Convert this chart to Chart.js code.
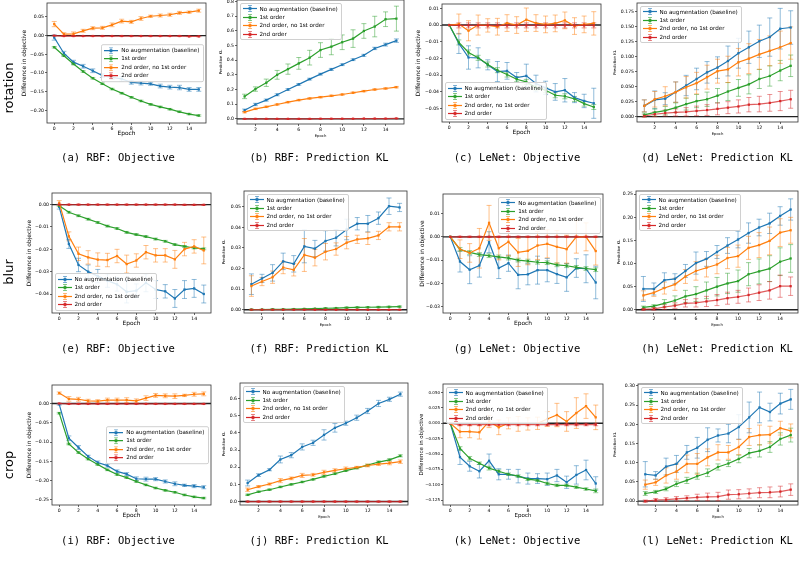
<!DOCTYPE html>
<html lang="en">
<head>
<meta charset="UTF-8">
<title>Augmentation: objective and prediction KL</title>
<script src="https://cdn.jsdelivr.net/npm/chart.js@4.4.1/dist/chart.umd.min.js"></script>
<style>
  html, body { margin: 0; padding: 0; background: #fff; }
  body { position: relative; width: 800px; height: 568px; overflow: hidden; font-family: "DejaVu Sans", sans-serif; }
  canvas { position: absolute; }
  .area { position: absolute; pointer-events: none; }
  .legend { position: absolute; background: rgba(255,255,255,0.85); border: 0.8px solid #d0d0d0; border-radius: 2px;
            padding: 1px 3px 1px 2px; font-size: 5.6px; line-height: 8.4px; white-space: nowrap; color: #000; }
  .legend svg { vertical-align: middle; margin-right: 3px; }
  .caption { position: absolute; transform: translate(-50%, -50%); font-family: "DejaVu Sans Mono", monospace; font-size: 10.5px; white-space: nowrap; }
  .rowlabel { position: absolute; font-size: 13px; transform: translate(-50%, -50%) rotate(-90deg); white-space: nowrap; }
</style>
</head>
<body>
<script>
// series + labels
const seriesNames = ['No augmentation (baseline)', '1st order', '2nd order, no 1st order', '2nd order'];
const seriesColors = ['#1f77b4', '#2ca02c', '#ff7f0e', '#d62728'];
const seriesFaded = ['rgba(31,119,180,0.55)', 'rgba(44,160,44,0.55)', 'rgba(255,127,14,0.55)', 'rgba(214,39,40,0.55)'];
const rowLabels = ['rotation', 'blur', 'crop'];

const epochsObj = [0, 1, 2, 3, 4, 5, 6, 7, 8, 9, 10, 11, 12, 13, 14, 15];
const epochsKL = [1, 2, 3, 4, 5, 6, 7, 8, 9, 10, 11, 12, 13, 14, 15];
const xticksObj = [0, 2, 4, 6, 8, 10, 12, 14];
const xticksKL = [2, 4, 6, 8, 10, 12, 14];

// (a) rotation, RBF objective
const a_yticks = [0.05, 0, -0.05, -0.10, -0.15, -0.20];
const a_base = [-0.005, -0.047, -0.071, -0.082, -0.094, -0.107, -0.112, -0.116, -0.125, -0.127, -0.129, -0.135, -0.138, -0.139, -0.144, -0.144];
const a_base_err = [0.007, 0.005, 0.005, 0.005, 0.005, 0.005, 0.005, 0.006, 0.005, 0.005, 0.004, 0.005, 0.005, 0.006, 0.005, 0.005];
const a_first = [-0.031, -0.054, -0.076, -0.096, -0.114, -0.129, -0.143, -0.154, -0.165, -0.175, -0.184, -0.191, -0.197, -0.204, -0.210, -0.214];
const a_first_err = [0.002, 0.002, 0.002, 0.002, 0.002, 0.002, 0.002, 0.002, 0.002, 0.002, 0.002, 0.002, 0.002, 0.002, 0.002, 0.002];
const a_mix = [0.031, 0.004, 0.005, 0.013, 0.020, 0.021, 0.029, 0.039, 0.037, 0.046, 0.052, 0.054, 0.056, 0.061, 0.063, 0.067];
const a_mix_err = [0.007, 0.004, 0.005, 0.004, 0.004, 0.004, 0.005, 0.005, 0.004, 0.005, 0.003, 0.004, 0.004, 0.004, 0.003, 0.004];
const a_second = [0, -0.001, -0.001, -0.001, -0.001, -0.001, -0.001, -0.001, -0.001, -0.001, -0.001, -0.001, -0.001, -0.001, -0.002, -0.002];
const a_second_err = [0.001, 0.001, 0.001, 0.001, 0.001, 0.001, 0.001, 0.001, 0.001, 0.001, 0.001, 0.001, 0.001, 0.001, 0.001, 0.001];

// (b) rotation, RBF prediction KL
const b_yticks = [0, 0.1, 0.2, 0.3, 0.4, 0.5, 0.6, 0.7, 0.8];
const b_base = [0.059, 0.098, 0.128, 0.164, 0.200, 0.235, 0.271, 0.305, 0.337, 0.369, 0.403, 0.433, 0.480, 0.506, 0.533];
const b_base_err = [0.008, 0.008, 0.007, 0.007, 0.006, 0.006, 0.006, 0.006, 0.007, 0.006, 0.006, 0.007, 0.008, 0.010, 0.012];
const b_first = [0.153, 0.203, 0.246, 0.300, 0.339, 0.378, 0.417, 0.469, 0.492, 0.522, 0.547, 0.599, 0.629, 0.679, 0.683];
const b_first_err = [0.015, 0.015, 0.025, 0.030, 0.035, 0.040, 0.050, 0.050, 0.055, 0.050, 0.060, 0.050, 0.070, 0.050, 0.085];
const b_mix = [0.046, 0.068, 0.082, 0.098, 0.114, 0.128, 0.139, 0.148, 0.157, 0.166, 0.178, 0.189, 0.200, 0.207, 0.216];
const b_mix_err = [0.005, 0.005, 0.005, 0.005, 0.005, 0.005, 0.005, 0.005, 0.005, 0.005, 0.005, 0.005, 0.005, 0.005, 0.005];
const b_second = [0, 0, 0, 0, 0, 0, 0, 0.001, 0.001, 0.001, 0.001, 0.002, 0.002, 0.002, 0.003];
const b_second_err = [0.001, 0.001, 0.001, 0.001, 0.001, 0.001, 0.001, 0.001, 0.001, 0.001, 0.001, 0.001, 0.001, 0.001, 0.001];

// (c) rotation, LeNet objective
const c_yticks = [0.01, 0, -0.01, -0.02, -0.03, -0.04, -0.05];
const c_base = [0, -0.0110, -0.0194, -0.0196, -0.0238, -0.0278, -0.0274, -0.0314, -0.0304, -0.0350, -0.0376, -0.0400, -0.0390, -0.0434, -0.0454, -0.0468];
const c_base_err = [0, 0.006, 0.007, 0.006, 0.003, 0.006, 0.005, 0.003, 0.007, 0.005, 0.004, 0.005, 0.007, 0.003, 0.004, 0.009];
const c_first = [0, -0.0104, -0.0164, -0.0196, -0.0236, -0.0270, -0.0296, -0.0324, -0.0340, -0.0374, -0.0390, -0.0420, -0.0426, -0.0442, -0.0470, -0.0490];
const c_first_err = [0, 0.0015, 0.0015, 0.0015, 0.0015, 0.0015, 0.0015, 0.0015, 0.0015, 0.0015, 0.0015, 0.0015, 0.0015, 0.0015, 0.0015, 0.0015];
const c_mix = [0, 0.0006, -0.0034, 0, -0.0002, -0.0010, 0.0012, 0, 0.0032, 0.0012, 0.0004, 0.0010, 0.0028, -0.0006, 0.0004, 0.0010];
const c_mix_err = [0, 0.006, 0.006, 0.006, 0.004, 0.005, 0.005, 0.005, 0.007, 0.005, 0.005, 0.005, 0.005, 0.005, 0.005, 0.007];
const c_second = [0, -0.0002, -0.0002, -0.0002, -0.0002, -0.0002, -0.0002, -0.0002, -0.0002, -0.0002, -0.0002, -0.0002, -0.0002, -0.0002, -0.0002, -0.0002];
const c_second_err = [0, 0.0015, 0.0015, 0.0015, 0.0015, 0.0015, 0.0015, 0.0015, 0.0015, 0.0015, 0.0015, 0.0015, 0.0015, 0.0015, 0.0015, 0.0015];

// (d) rotation, LeNet prediction KL
const d_yticks = [0, 0.025, 0.05, 0.075, 0.1, 0.125, 0.15, 0.175];
const d_base = [0.018, 0.028, 0.030, 0.041, 0.052, 0.063, 0.074, 0.082, 0.093, 0.106, 0.116, 0.126, 0.133, 0.147, 0.149];
const d_base_err = [0.010, 0.015, 0.010, 0.017, 0.017, 0.018, 0.018, 0.018, 0.025, 0.025, 0.027, 0.027, 0.032, 0.034, 0.028];
const d_first = [0.003, 0.007, 0.010, 0.015, 0.021, 0.026, 0.029, 0.035, 0.042, 0.048, 0.054, 0.063, 0.068, 0.077, 0.085];
const d_first_err = [0.003, 0.006, 0.007, 0.008, 0.010, 0.011, 0.012, 0.012, 0.015, 0.014, 0.016, 0.016, 0.017, 0.017, 0.018];
const d_mix = [0.018, 0.029, 0.034, 0.041, 0.049, 0.056, 0.066, 0.076, 0.079, 0.091, 0.097, 0.104, 0.110, 0.116, 0.123];
const d_mix_err = [0.010, 0.013, 0.016, 0.017, 0.018, 0.018, 0.020, 0.020, 0.022, 0.023, 0.025, 0.025, 0.025, 0.027, 0.027];
const d_second = [0.001, 0.004, 0.006, 0.007, 0.008, 0.0095, 0.011, 0.013, 0.015, 0.017, 0.020, 0.021, 0.023, 0.026, 0.029];
const d_second_err = [0.002, 0.004, 0.005, 0.006, 0.007, 0.008, 0.009, 0.010, 0.010, 0.011, 0.012, 0.013, 0.014, 0.016, 0.015];

// (e) blur, RBF objective
const e_yticks = [0, -0.01, -0.02, -0.03, -0.04];
const e_base = [-0.001, -0.0176, -0.0270, -0.0300, -0.0320, -0.0340, -0.0357, -0.0390, -0.0385, -0.0350, -0.0380, -0.0388, -0.0420, -0.0380, -0.0375, -0.0400];
const e_base_err = [0.001, 0.002, 0.003, 0.003, 0.003, 0.003, 0.003, 0.005, 0.003, 0.004, 0.004, 0.003, 0.004, 0.004, 0.004, 0.004];
const e_first = [-0.0005, -0.0034, -0.0050, -0.0065, -0.0080, -0.0096, -0.0107, -0.0124, -0.0134, -0.0143, -0.0154, -0.0164, -0.0179, -0.0187, -0.0194, -0.0198];
const e_first_err = [0.0004, 0.0004, 0.0004, 0.0004, 0.0004, 0.0004, 0.0004, 0.0004, 0.0004, 0.0004, 0.0004, 0.0004, 0.0004, 0.0004, 0.0004, 0.0004];
const e_mix = [0.0008, -0.0142, -0.0220, -0.0236, -0.0246, -0.0248, -0.0230, -0.0266, -0.0250, -0.0213, -0.0227, -0.0227, -0.0245, -0.0199, -0.0187, -0.0205];
const e_mix_err = [0.001, 0.002, 0.003, 0.003, 0.003, 0.003, 0.003, 0.004, 0.003, 0.003, 0.003, 0.003, 0.004, 0.003, 0.003, 0.006];
const e_second = [0, 0, 0, 0, 0, 0, 0, 0, 0, 0, 0, 0, 0, -0.0001, -0.0001, -0.0001];
const e_second_err = [0.0002, 0.0002, 0.0002, 0.0002, 0.0002, 0.0002, 0.0002, 0.0002, 0.0002, 0.0002, 0.0002, 0.0002, 0.0002, 0.0002, 0.0002, 0.0002];

// (f) blur, RBF prediction KL
const f_yticks = [0, 0.01, 0.02, 0.03, 0.04, 0.05];
const f_base = [0.0124, 0.0152, 0.0179, 0.0235, 0.0223, 0.0308, 0.0297, 0.0334, 0.0350, 0.0390, 0.0418, 0.0418, 0.0445, 0.0503, 0.0497];
const f_base_err = [0.005, 0.002, 0.004, 0.004, 0.004, 0.008, 0.004, 0.005, 0.004, 0.005, 0.003, 0.004, 0.003, 0.004, 0.002];
const f_first = [0.0001, 0.0001, 0.0002, 0.0002, 0.0003, 0.0004, 0.0005, 0.0007, 0.0008, 0.0010, 0.0011, 0.0012, 0.0013, 0.0014, 0.0015];
const f_first_err = [0.0002, 0.0002, 0.0002, 0.0002, 0.0002, 0.0002, 0.0002, 0.0002, 0.0002, 0.0003, 0.0003, 0.0003, 0.0003, 0.0003, 0.0003];
const f_mix = [0.0115, 0.0137, 0.0158, 0.0205, 0.0194, 0.0266, 0.0253, 0.0282, 0.0295, 0.0326, 0.0342, 0.0347, 0.0361, 0.0403, 0.0403];
const f_mix_err = [0.005, 0.002, 0.003, 0.003, 0.003, 0.008, 0.004, 0.004, 0.003, 0.003, 0.002, 0.003, 0.002, 0.002, 0.002];
const f_second = [0, 0, 0, 0, 0, 0, 0, 0, 0, 0, 0, 0, 0, 0, 0];
const f_second_err = [0.0001, 0.0001, 0.0001, 0.0001, 0.0001, 0.0001, 0.0001, 0.0001, 0.0001, 0.0001, 0.0001, 0.0001, 0.0001, 0.0001, 0.0001];

// (g) blur, LeNet objective
const g_yticks = [0.01, 0, -0.01, -0.02, -0.03];
const g_base = [0, -0.0106, -0.0141, -0.0123, -0.0023, -0.0134, -0.0113, -0.0163, -0.0161, -0.0143, -0.0143, -0.0160, -0.0174, -0.0134, -0.0137, -0.0196];
const g_base_err = [0, 0.0045, 0.006, 0.005, 0.0045, 0.0045, 0.0035, 0.006, 0.0045, 0.006, 0.005, 0.004, 0.006, 0.004, 0.006, 0.007];
const g_first = [0, -0.0054, -0.0067, -0.0076, -0.0081, -0.0086, -0.0091, -0.0100, -0.0104, -0.0109, -0.0111, -0.0120, -0.0124, -0.0131, -0.0136, -0.0141];
const g_first_err = [0, 0.0008, 0.0008, 0.0008, 0.0008, 0.0008, 0.0008, 0.0008, 0.0008, 0.0008, 0.0008, 0.0008, 0.0008, 0.0008, 0.0008, 0.0008];
const g_mix = [0, -0.0053, -0.0069, -0.0049, 0.0060, -0.0049, -0.0021, -0.0067, -0.0060, -0.0037, -0.0030, -0.0043, -0.0053, 0, 0, -0.0061];
const g_mix_err = [0, 0.004, 0.004, 0.0085, 0.0075, 0.005, 0.006, 0.006, 0.006, 0.006, 0.006, 0.007, 0.006, 0.007, 0.006, 0.006];
const g_second = [0, 0, 0, 0, 0, 0, 0, 0, 0, 0, 0, 0, 0, 0, 0, 0];
const g_second_err = [0, 0.0003, 0.0003, 0.0003, 0.0003, 0.0003, 0.0003, 0.0003, 0.0003, 0.0003, 0.0003, 0.0003, 0.0003, 0.0003, 0.0003, 0.0003];

// (h) blur, LeNet prediction KL
const h_yticks = [0, 0.05, 0.10, 0.15, 0.20, 0.25];
const h_base = [0.045, 0.045, 0.064, 0.067, 0.084, 0.101, 0.110, 0.125, 0.139, 0.152, 0.166, 0.178, 0.187, 0.203, 0.217];
const h_base_err = [0.027, 0.013, 0.016, 0.011, 0.014, 0.024, 0.016, 0.014, 0.017, 0.018, 0.022, 0.018, 0.022, 0.020, 0.023];
const h_first = [0.005, 0.008, 0.014, 0.020, 0.029, 0.034, 0.042, 0.050, 0.057, 0.062, 0.077, 0.083, 0.089, 0.104, 0.111];
const h_first_err = [0.003, 0.003, 0.008, 0.010, 0.013, 0.016, 0.018, 0.020, 0.022, 0.024, 0.025, 0.027, 0.028, 0.030, 0.030];
const h_mix = [0.031, 0.037, 0.047, 0.055, 0.072, 0.084, 0.091, 0.098, 0.112, 0.116, 0.134, 0.140, 0.149, 0.167, 0.172];
const h_mix_err = [0.010, 0.008, 0.013, 0.013, 0.015, 0.020, 0.020, 0.020, 0.023, 0.024, 0.025, 0.027, 0.030, 0.030, 0.028];
const h_second = [0.001, 0.002, 0.006, 0.009, 0.014, 0.015, 0.018, 0.021, 0.025, 0.028, 0.032, 0.037, 0.042, 0.051, 0.051];
const h_second_err = [0.002, 0.003, 0.005, 0.006, 0.008, 0.009, 0.011, 0.012, 0.013, 0.014, 0.015, 0.017, 0.019, 0.024, 0.020];

// (i) crop, RBF objective
const i_yticks = [0, -0.05, -0.10, -0.15, -0.20, -0.25];
const i_base = [-0.002, -0.090, -0.114, -0.137, -0.153, -0.161, -0.176, -0.183, -0.195, -0.196, -0.196, -0.202, -0.208, -0.212, -0.214, -0.217];
const i_base_err = [0.002, 0.006, 0.005, 0.003, 0.004, 0.004, 0.004, 0.004, 0.005, 0.005, 0.004, 0.004, 0.005, 0.003, 0.004, 0.004];
const i_first = [-0.025, -0.105, -0.127, -0.144, -0.158, -0.172, -0.184, -0.192, -0.202, -0.211, -0.219, -0.225, -0.230, -0.237, -0.242, -0.245];
const i_first_err = [0.002, 0.002, 0.002, 0.002, 0.002, 0.002, 0.002, 0.002, 0.002, 0.002, 0.002, 0.002, 0.002, 0.002, 0.002, 0.002];
const i_mix = [0.027, 0.012, 0.011, 0.007, 0.006, 0.009, 0.009, 0.009, 0.007, 0.014, 0.021, 0.020, 0.019, 0.021, 0.024, 0.025];
const i_mix_err = [0.003, 0.006, 0.005, 0.004, 0.004, 0.005, 0.005, 0.006, 0.005, 0.006, 0.005, 0.005, 0.006, 0.003, 0.005, 0.005];
const i_second = [0, -0.001, -0.001, -0.001, -0.001, -0.001, -0.001, -0.001, -0.001, -0.001, -0.001, -0.001, -0.001, -0.001, -0.001, -0.001];
const i_second_err = [0.001, 0.001, 0.001, 0.001, 0.001, 0.001, 0.001, 0.001, 0.001, 0.001, 0.001, 0.001, 0.001, 0.001, 0.001, 0.001];

// (j) crop, RBF prediction KL
const j_yticks = [0, 0.1, 0.2, 0.3, 0.4, 0.5, 0.6];
const j_base = [0.108, 0.154, 0.185, 0.245, 0.270, 0.318, 0.342, 0.388, 0.429, 0.456, 0.488, 0.527, 0.571, 0.595, 0.625];
const j_base_err = [0.017, 0.008, 0.006, 0.020, 0.015, 0.018, 0.015, 0.030, 0.025, 0.012, 0.015, 0.015, 0.018, 0.012, 0.012];
const j_first = [0.039, 0.057, 0.069, 0.085, 0.100, 0.114, 0.129, 0.147, 0.162, 0.180, 0.195, 0.212, 0.230, 0.243, 0.266];
const j_first_err = [0.004, 0.004, 0.004, 0.004, 0.004, 0.004, 0.004, 0.005, 0.005, 0.005, 0.005, 0.005, 0.006, 0.006, 0.006];
const j_mix = [0.069, 0.087, 0.102, 0.122, 0.135, 0.152, 0.156, 0.170, 0.181, 0.191, 0.199, 0.210, 0.218, 0.224, 0.232];
const j_mix_err = [0.010, 0.006, 0.006, 0.012, 0.008, 0.012, 0.008, 0.012, 0.010, 0.010, 0.006, 0.008, 0.008, 0.010, 0.010];
const j_second = [0, 0, 0, 0, 0, 0, 0, 0, 0, 0, 0, 0, 0, 0, 0];
const j_second_err = [0.003, 0.003, 0.003, 0.003, 0.003, 0.003, 0.003, 0.003, 0.003, 0.003, 0.003, 0.003, 0.003, 0.003, 0.003];

// (k) crop, LeNet objective
const k_yticks = [0.05, 0.025, 0, -0.025, -0.05, -0.075, -0.1, -0.125];
const k_base = [0, -0.055, -0.070, -0.078, -0.061, -0.083, -0.083, -0.086, -0.090, -0.090, -0.091, -0.085, -0.096, -0.084, -0.076, -0.098];
const k_base_err = [0, 0.012, 0.008, 0.011, 0.011, 0.009, 0.008, 0.011, 0.009, 0.008, 0.010, 0.010, 0.010, 0.015, 0.016, 0.011];
const k_first = [0, -0.041, -0.057, -0.065, -0.073, -0.078, -0.083, -0.086, -0.091, -0.093, -0.098, -0.101, -0.101, -0.104, -0.107, -0.110];
const k_first_err = [0, 0.003, 0.003, 0.002, 0.003, 0.002, 0.002, 0.002, 0.002, 0.002, 0.002, 0.002, 0.002, 0.002, 0.002, 0.003];
const k_mix = [0, -0.0135, -0.0135, -0.0146, 0.003, -0.0065, 0, -0.001, -0.001, 0, 0.007, 0.0135, 0.003, 0.0167, 0.028, 0.0097];
const k_mix_err = [0, 0.010, 0.010, 0.011, 0.010, 0.012, 0.009, 0.012, 0.010, 0.010, 0.012, 0.019, 0.016, 0.025, 0.020, 0.020];
const k_second = [0, -0.002, -0.002, -0.002, -0.002, -0.002, -0.002, -0.002, -0.002, -0.002, -0.002, -0.002, -0.002, -0.002, -0.002, -0.002];
const k_second_err = [0, 0.002, 0.002, 0.002, 0.002, 0.002, 0.002, 0.002, 0.002, 0.002, 0.002, 0.002, 0.002, 0.002, 0.002, 0.002];

// (l) crop, LeNet prediction KL
const l_yticks = [0, 0.05, 0.10, 0.15, 0.20, 0.25, 0.30];
const l_base = [0.070, 0.067, 0.090, 0.097, 0.127, 0.139, 0.160, 0.171, 0.176, 0.193, 0.218, 0.244, 0.232, 0.254, 0.265];
const l_base_err = [0.033, 0.010, 0.022, 0.022, 0.018, 0.027, 0.031, 0.017, 0.024, 0.032, 0.040, 0.040, 0.023, 0.027, 0.026];
const l_first = [0.020, 0.024, 0.032, 0.045, 0.054, 0.065, 0.074, 0.089, 0.098, 0.110, 0.125, 0.131, 0.141, 0.162, 0.172];
const l_first_err = [0.005, 0.004, 0.005, 0.007, 0.008, 0.008, 0.010, 0.008, 0.008, 0.010, 0.012, 0.016, 0.014, 0.016, 0.018];
const l_mix = [0.043, 0.049, 0.067, 0.077, 0.097, 0.097, 0.114, 0.127, 0.127, 0.141, 0.167, 0.172, 0.173, 0.190, 0.183];
const l_mix_err = [0.012, 0.008, 0.020, 0.020, 0.023, 0.027, 0.022, 0.020, 0.018, 0.020, 0.022, 0.026, 0.022, 0.018, 0.018];
const l_second = [0.000, 0.003, 0.004, 0.006, 0.008, 0.010, 0.011, 0.012, 0.017, 0.018, 0.020, 0.022, 0.023, 0.025, 0.030];
const l_second_err = [0.003, 0.004, 0.005, 0.006, 0.006, 0.008, 0.010, 0.011, 0.012, 0.012, 0.012, 0.013, 0.014, 0.014, 0.015];

// layout of the 12 panels: chart area [left, top, right, bottom] in page px
const panels = [
  { caption: '(a) RBF: Objective', kind: 'obj', series: [a_base, a_first, a_mix, a_second], errors: [a_base_err, a_first_err, a_mix_err, a_second_err],
    yticks: a_yticks, dec: 2, ymin: -0.234, ymax: 0.0875, area: [47, 3, 206, 123], ytitleX: 24.3, legend: 'cr' },
  { caption: '(b) RBF: Prediction KL', kind: 'kl', series: [b_base, b_first, b_mix, b_second], errors: [b_base_err, b_first_err, b_mix_err, b_second_err],
    yticks: b_yticks, dec: 1, ymin: -0.035, ymax: 0.81, area: [237, 0, 404, 124], ytitleX: 221.7, legend: 'ul' },
  { caption: '(c) LeNet: Objective', kind: 'obj', series: [c_base, c_first, c_mix, c_second], errors: [c_base_err, c_first_err, c_mix_err, c_second_err],
    yticks: c_yticks, dec: 2, ymin: -0.058, ymax: 0.0126, area: [442, 4, 601, 122], ytitleX: 419, legend: 'll' },
  { caption: '(d) LeNet: Prediction KL', kind: 'kl', series: [d_base, d_first, d_mix, d_second], errors: [d_base_err, d_first_err, d_mix_err, d_second_err],
    yticks: d_yticks, dec: 3, ymin: -0.009, ymax: 0.19, area: [637, 3, 798, 122], ytitleX: 615.7, legend: 'ul' },
  { caption: '(e) RBF: Objective', kind: 'obj', series: [e_base, e_first, e_mix, e_second], errors: [e_base_err, e_first_err, e_mix_err, e_second_err],
    yticks: e_yticks, dec: 2, ymin: -0.0485, ymax: 0.0052, area: [52, 193, 211, 313], ytitleX: 30, legend: 'll' },
  { caption: '(f) RBF: Prediction KL', kind: 'kl', series: [f_base, f_first, f_mix, f_second], errors: [f_base_err, f_first_err, f_mix_err, f_second_err],
    yticks: f_yticks, dec: 2, ymin: -0.0016, ymax: 0.0577, area: [244, 191, 407, 313], ytitleX: 224.3, legend: 'ul' },
  { caption: '(g) LeNet: Objective', kind: 'obj', series: [g_base, g_first, g_mix, g_second], errors: [g_base_err, g_first_err, g_mix_err, g_second_err],
    yticks: g_yticks, dec: 2, ymin: -0.0327, ymax: 0.0184, area: [443, 194, 603, 313], ytitleX: 422.3, legend: 'ur' },
  { caption: '(h) LeNet: Prediction KL', kind: 'kl', series: [h_base, h_first, h_mix, h_second], errors: [h_base_err, h_first_err, h_mix_err, h_second_err],
    yticks: h_yticks, dec: 2, ymin: -0.007, ymax: 0.257, area: [636, 191, 798, 313], ytitleX: 619, legend: 'ul' },
  { caption: '(i) RBF: Objective', kind: 'obj', series: [i_base, i_first, i_mix, i_second], errors: [i_base_err, i_first_err, i_mix_err, i_second_err],
    yticks: i_yticks, dec: 2, ymin: -0.263, ymax: 0.048, area: [52, 385, 211, 505], ytitleX: 30, legend: 'cr' },
  { caption: '(j) RBF: Prediction KL', kind: 'kl', series: [j_base, j_first, j_mix, j_second], errors: [j_base_err, j_first_err, j_mix_err, j_second_err],
    yticks: j_yticks, dec: 1, ymin: -0.02, ymax: 0.69, area: [240, 383, 408, 505], ytitleX: 224.3, legend: 'ul' },
  { caption: '(k) LeNet: Objective', kind: 'obj', series: [k_base, k_first, k_mix, k_second], errors: [k_base_err, k_first_err, k_mix_err, k_second_err],
    yticks: k_yticks, dec: 3, ymin: -0.133, ymax: 0.064, area: [443, 384, 603, 505], ytitleX: 421, legend: 'ul', tickSize: 4.0, titleSize: 5.5 },
  { caption: '(l) LeNet: Prediction KL', kind: 'kl', series: [l_base, l_first, l_mix, l_second], errors: [l_base_err, l_first_err, l_mix_err, l_second_err],
    yticks: l_yticks, dec: 2, ymin: -0.01, ymax: 0.305, area: [638, 384, 798, 505], ytitleX: 615.7, legend: 'ul' }
];

const captionX = [118, 319, 517, 717];
const captionY = [157, 348, 540];
const rowLabelY = [88, 272, 465];

// zero line, error bars, and the box around the axes
const errorBars = {
  id: 'errorBars',
  beforeDatasetsDraw(chart) {
    const ctx = chart.ctx, ys = chart.scales.y, area = chart.chartArea;
    ctx.save();
    const y0 = ys.getPixelForValue(0);
    ctx.strokeStyle = '#222';
    ctx.lineWidth = 1.4;
    ctx.beginPath();
    ctx.moveTo(area.left, y0);
    ctx.lineTo(area.right, y0);
    ctx.stroke();
    chart.data.datasets.forEach((ds, k) => {
      const meta = chart.getDatasetMeta(k);
      ctx.strokeStyle = seriesFaded[k];
      ctx.lineWidth = 0.9;
      meta.data.forEach((pt, i) => {
        const e = ds.errors[i];
        if (!e) return;
        const v = ds.data[i].y;
        const y1 = ys.getPixelForValue(v - e);
        const y2 = ys.getPixelForValue(v + e);
        ctx.beginPath();
        ctx.moveTo(pt.x, y1); ctx.lineTo(pt.x, y2);
        ctx.moveTo(pt.x - 2.5, y1); ctx.lineTo(pt.x + 2.5, y1);
        ctx.moveTo(pt.x - 2.5, y2); ctx.lineTo(pt.x + 2.5, y2);
        ctx.stroke();
      });
    });
    ctx.restore();
  },
  afterDraw(chart) {
    const ctx = chart.ctx, a = chart.chartArea;
    ctx.save();
    ctx.strokeStyle = '#333';
    ctx.lineWidth = 0.8;
    ctx.strokeRect(a.left, a.top, a.right - a.left, a.bottom - a.top);
    ctx.restore();
  }
};

function fmt(v, dec) {
  const s = Math.abs(v).toFixed(dec);
  return v < -1e-12 ? '\u2212' + s : s;
}

function handleSvg(k) {
  const c = seriesColors[k], f = seriesFaded[k];
  return '<svg width="14" height="7" viewBox="0 0 14 7">' +
    '<line x1="0" y1="3.5" x2="14" y2="3.5" stroke="' + c + '" stroke-width="1.2"/>' +
    '<line x1="7" y1="0.5" x2="7" y2="6.5" stroke="' + f + '" stroke-width="1"/>' +
    '<line x1="5" y1="0.5" x2="9" y2="0.5" stroke="' + f + '" stroke-width="1"/>' +
    '<line x1="5" y1="6.5" x2="9" y2="6.5" stroke="' + f + '" stroke-width="1"/>' +
    '<rect x="5.6" y="2.1" width="2.8" height="2.8" fill="' + c + '"/></svg>';
}

function makePanel(p) {
  const isKL = p.kind === 'kl';
  const epochs = isKL ? epochsKL : epochsObj;
  const xticks = isKL ? xticksKL : xticksObj;
  const [l, t, r, b] = p.area;
  const tickSize = p.tickSize || 4.6;
  const titleSize = p.titleSize || (isKL ? 3.8 : 5.9);
  const lh = titleSize * 1.2;
  const padL = Math.round(l - (p.ytitleX - lh / 2));
  const padT = 5, padR = 4, padB = 14;

  const canvas = document.createElement('canvas');
  canvas.width = (r - l) + padL + padR;
  canvas.height = (b - t) + padT + padB;
  canvas.style.left = (l - padL) + 'px';
  canvas.style.top = (t - padT) + 'px';
  document.body.appendChild(canvas);

  const tickFont = { family: 'DejaVu Sans', size: tickSize };
  const chart = new Chart(canvas.getContext('2d'), {
    type: 'line',
    data: {
      datasets: p.series.map((vals, k) => ({
        label: seriesNames[k],
        data: epochs.map((e, i) => ({ x: e, y: vals[i] })),
        errors: p.errors[k],
        borderColor: k === 3 ? 'rgba(214,39,40,0.75)' : seriesColors[k],
        backgroundColor: seriesColors[k],
        borderWidth: 1.2,
        pointStyle: 'rect',
        pointRadius: 1.6,
        pointBorderWidth: 0,
        tension: 0,
        order: 4 - k
      }))
    },
    options: {
      responsive: false,
      animation: false,
      layout: { padding: { top: padT, right: padR, left: 0, bottom: 0 } },
      plugins: { legend: { display: false }, tooltip: { enabled: false } },
      scales: {
        x: {
          type: 'linear',
          min: isKL ? 0.3 : -0.75,
          max: isKL ? 15.7 : 15.75,
          afterBuildTicks: s => { s.ticks = xticks.map(v => ({ value: v })); },
          afterFit: s => { s.height = padB; },
          ticks: { font: { family: 'DejaVu Sans', size: 4.6 }, color: '#000', padding: 1, maxRotation: 0, autoSkip: false, callback: v => String(v) },
          grid: { display: true, drawOnChartArea: false, drawTicks: true, tickLength: 2, color: '#000', lineWidth: 0.6 },
          border: { display: false },
          title: { display: true, text: 'Epoch', color: '#000', padding: 0, font: { family: 'DejaVu Sans', size: titleSize } }
        },
        y: {
          type: 'linear',
          min: p.ymin,
          max: p.ymax,
          afterBuildTicks: s => { s.ticks = p.yticks.map(v => ({ value: v })); },
          afterFit: s => { s.width = padL; },
          ticks: { font: tickFont, color: '#000', padding: 1, autoSkip: false, callback: v => fmt(v, p.dec) },
          grid: { display: true, drawOnChartArea: false, drawTicks: true, tickLength: 2, color: '#000', lineWidth: 0.6 },
          border: { display: false },
          title: { display: true, text: isKL ? 'Prediction KL' : 'Difference in objective', color: '#000', padding: 0,
                   font: { family: 'DejaVu Sans', size: titleSize } }
        }
      }
    },
    plugins: [errorBars]
  });

  // legend inside the axes
  const ca = chart.chartArea;
  const box = document.createElement('div');
  box.className = 'area';
  box.style.left = (l - padL + ca.left) + 'px';
  box.style.top = (t - padT + ca.top) + 'px';
  box.style.width = (ca.right - ca.left) + 'px';
  box.style.height = (ca.bottom - ca.top) + 'px';
  const lg = document.createElement('div');
  lg.className = 'legend';
  lg.innerHTML = seriesNames.map((n, k) => '<div>' + handleSvg(k) + '<span>' + n + '</span></div>').join('');
  const inset = '2.5px';
  if (p.legend === 'ul') { lg.style.left = inset; lg.style.top = inset; }
  if (p.legend === 'll') { lg.style.left = inset; lg.style.bottom = inset; }
  if (p.legend === 'ur') { lg.style.right = inset; lg.style.top = inset; }
  if (p.legend === 'cr') { lg.style.right = inset; lg.style.top = '50%'; lg.style.transform = 'translateY(-50%)'; }
  box.appendChild(lg);
  document.body.appendChild(box);
}

panels.forEach(makePanel);

panels.forEach((p, n) => {
  const cap = document.createElement('div');
  cap.className = 'caption';
  cap.textContent = p.caption;
  cap.style.left = captionX[n % 4] + 'px';
  cap.style.top = captionY[Math.floor(n / 4)] + 'px';
  document.body.appendChild(cap);
});

rowLabels.forEach((txt, n) => {
  const d = document.createElement('div');
  d.className = 'rowlabel';
  d.textContent = txt;
  d.style.left = '8px';
  d.style.top = rowLabelY[n] + 'px';
  document.body.appendChild(d);
});
</script>
</body>
</html>
